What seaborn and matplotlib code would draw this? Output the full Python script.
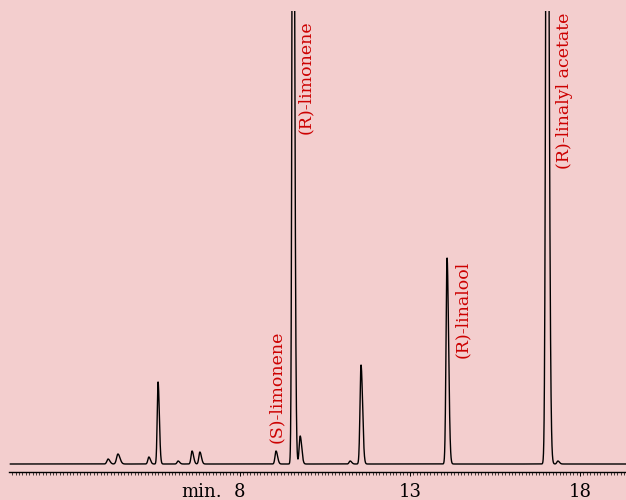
import numpy as np
import pandas as pd
import matplotlib
matplotlib.use("Agg")
import matplotlib.pyplot as plt
from matplotlib.ticker import MultipleLocator, FixedLocator, FixedFormatter
from matplotlib.transforms import offset_copy
import seaborn as sns

# Peak table: retention time (min), height (detector units), width sigma (min)
peak_times = [4.12, 4.41, 5.32, 5.59, 6.18, 6.59, 6.82, 9.06, 9.56, 9.77,
              11.24, 11.56, 14.09, 17.03, 17.35]
peak_heights = [5, 10, 7, 82, 3, 13, 12, 13, 900, 28,
                3, 99, 206, 900, 3]
peak_widths = [0.035, 0.04, 0.03, 0.025, 0.03, 0.03, 0.03, 0.03, 0.028, 0.03,
               0.03, 0.03, 0.03, 0.035, 0.03]

# Compound annotations: label, time, y, vertical anchor
label_names = ["(S)-limonene", "(R)-limonene", "(R)-linalool", "(R)-linalyl acetate"]
label_times = [9.06, 9.94, 14.53, 17.53]
label_y = [21, 444, 106, 451]
label_va = ["bottom", "top", "bottom", "top"]

tick_values = [8, 13, 18]
tick_labels = ["8", "13", "18"]

# Build the detector trace from the peak table (tailing Gaussian shape)
t = np.linspace(1.24, 19.35, 6000)
signal = np.zeros_like(t)
for rt, h, w in zip(peak_times, peak_heights, peak_widths):
    d = t - rt
    s = np.where(d < 0, w, w * 1.5)
    signal += h * np.exp(-0.5 * (d / s) ** 2)
trace = pd.DataFrame({"time": t, "signal": signal})

bg = "#f3cece"
red = "#cc0000"
sns.set_theme(style="ticks")
plt.rcParams["font.family"] = ["DejaVu Serif"]

fig = plt.figure(figsize=(6.26, 5.0), dpi=100, facecolor=bg)
ax = fig.add_axes([9 / 626, 28 / 500, 1 - 9 / 626, 461 / 500])
ax.set_facecolor(bg)

sns.lineplot(data=trace, x="time", y="signal", ax=ax, color="black",
             linewidth=1.0, estimator=None, sort=False)

ax.set_xlim(1.206, 19.353)
ax.set_ylim(-8, 453)

for name, x, y, va in zip(label_names, label_times, label_y, label_va):
    ax.text(x, y, name, rotation=90, ha="center", va=va, color=red,
            fontsize=12.5, family="DejaVu Serif")

for s in ["left", "right", "top"]:
    ax.spines[s].set_visible(False)
ax.spines["bottom"].set_linewidth(1.0)
ax.spines["bottom"].set_color("black")
ax.set_yticks([])
ax.xaxis.set_major_locator(FixedLocator(tick_values))
ax.xaxis.set_major_formatter(FixedFormatter(tick_labels))
ax.xaxis.set_minor_locator(MultipleLocator(0.1))
ax.tick_params(axis="x", which="major", length=3, width=0.7, colors="black",
               labelsize=13, pad=5)
ax.tick_params(axis="x", which="minor", length=2.5, width=0.5, colors="black")
ax.set_xlabel("")
ax.set_ylabel("")

# unit text to the left of the first labelled tick, aligned with the tick labels
unit_tr = offset_copy(ax.get_xaxis_transform(), fig=fig, x=0, y=-8, units="points")
ax.text(6.88, 0, "min.", transform=unit_tr, ha="center", va="top",
        fontsize=13, color="black", family="DejaVu Serif")

fig.savefig("out.png", dpi=100, facecolor=bg)
